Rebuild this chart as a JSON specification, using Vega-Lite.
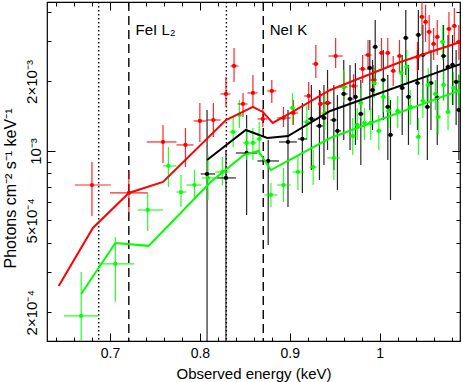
{
  "$schema": "https://vega.github.io/schema/vega-lite/v6.json",
  "width": 413,
  "height": 339,
  "autosize": {"type": "none"},
  "padding": {"left": 47, "top": 2, "right": 3, "bottom": 41},
  "config": {
    "font": "Liberation Sans",
    "view": {"stroke": "#000000", "strokeWidth": 1.2},
    "axis": {"domain": false, "grid": false, "tickColor": "#000000", "tickWidth": 1, "labelColor": "#000000", "titleColor": "#000000", "labelFont": "Liberation Sans", "titleFont": "Liberation Sans", "labelFontSize": 14, "titleFontSize": 15, "titleFontWeight": "normal", "labelFlush": false, "labelOverlap": false}
  },
  "datasets": {
    "pts": [
      {"s":"k","e":0.808,"l":0.801,"h":0.817,"f":7.95e-4,"fl":1.4e-4,"fh":1.505e-3},
      {"s":"k","e":0.829,"l":0.819,"h":0.840,"f":7.64e-4,"fl":1.4e-4,"fh":1.01e-3},
      {"s":"k","e":0.852,"l":0.840,"h":0.864,"f":9.80e-4,"fl":5.28e-4,"fh":1.432e-3},
      {"s":"k","e":0.876,"l":0.864,"h":0.888,"f":9.05e-4,"fl":3.91e-4,"fh":1.116e-3},
      {"s":"k","e":0.898,"l":0.888,"h":0.908,"f":1.094e-3,"fl":5.72e-4,"fh":1.505e-3},
      {"s":"k","e":0.914,"l":0.909,"h":0.919,"f":1.127e-3,"fl":6.58e-4,"fh":1.614e-3},
      {"s":"k","e":0.924,"l":0.920,"h":0.928,"f":1.376e-3,"fl":8.27e-4,"fh":1.932e-3},
      {"s":"k","e":0.933,"l":0.929,"h":0.937,"f":1.283e-3,"fl":7.49e-4,"fh":1.837e-3},
      {"s":"k","e":0.938,"l":0.935,"h":0.941,"f":1.390e-3,"fl":8.70e-4,"fh":1.932e-3},
      {"s":"k","e":0.942,"l":0.939,"h":0.946,"f":1.614e-3,"fl":1.01e-3,"fh":2.244e-3},
      {"s":"k","e":0.949,"l":0.945,"h":0.952,"f":1.362e-3,"fl":8.27e-4,"fh":1.932e-3},
      {"s":"k","e":0.953,"l":0.950,"h":0.957,"f":1.221e-3,"fl":6.78e-4,"fh":1.749e-3},
      {"s":"k","e":0.960,"l":0.957,"h":0.964,"f":1.766e-3,"fl":1.116e-3,"fh":2.478e-3},
      {"s":"k","e":0.967,"l":0.964,"h":0.971,"f":1.680e-3,"fl":1.01e-3,"fh":2.358e-3},
      {"s":"k","e":0.973,"l":0.970,"h":0.976,"f":1.714e-3,"fl":1.062e-3,"fh":2.40e-3},
      {"s":"k","e":0.979,"l":0.976,"h":0.982,"f":1.447e-3,"fl":8.70e-4,"fh":2.03e-3},
      {"s":"k","e":0.989,"l":0.986,"h":0.992,"f":2.289e-3,"fl":1.505e-3,"fh":3.027e-3},
      {"s":"k","e":0.992,"l":0.989,"h":0.995,"f":1.837e-3,"fl":1.233e-3,"fh":2.478e-3},
      {"s":"k","e":0.995,"l":0.992,"h":0.998,"f":2.822e-3,"fl":1.932e-3,"fh":3.694e-3},
      {"s":"k","e":1.004,"l":1.001,"h":1.007,"f":2.03e-3,"fl":1.362e-3,"fh":2.74e-3},
      {"s":"k","e":1.009,"l":1.006,"h":1.012,"f":1.551e-3,"fl":9.14e-4,"fh":2.135e-3},
      {"s":"k","e":1.012,"l":1.009,"h":1.015,"f":1.173e-3,"fl":6.13e-4,"fh":1.663e-3},
      {"s":"k","e":1.025,"l":1.022,"h":1.028,"f":1.875e-3,"fl":1.173e-3,"fh":2.605e-3},
      {"s":"k","e":1.029,"l":1.026,"h":1.032,"f":3.088e-3,"fl":2.135e-3,"fh":4.08e-3},
      {"s":"k","e":1.032,"l":1.029,"h":1.035,"f":1.714e-3,"fl":1.062e-3,"fh":2.358e-3},
      {"s":"k","e":1.042,"l":1.039,"h":1.045,"f":1.97e-3,"fl":1.233e-3,"fh":2.74e-3},
      {"s":"k","e":1.043,"l":1.040,"h":1.046,"f":3.182e-3,"fl":2.244e-3,"fh":4.08e-3},
      {"s":"k","e":1.048,"l":1.045,"h":1.051,"f":2.605e-3,"fl":1.663e-3,"fh":3.515e-3},
      {"s":"k","e":1.053,"l":1.050,"h":1.056,"f":1.551e-3,"fl":9.14e-4,"fh":2.135e-3},
      {"s":"k","e":1.057,"l":1.054,"h":1.060,"f":1.97e-3,"fl":1.233e-3,"fh":2.74e-3},
      {"s":"k","e":1.064,"l":1.061,"h":1.067,"f":1.697e-3,"fl":1.062e-3,"fh":2.358e-3},
      {"s":"k","e":1.071,"l":1.068,"h":1.074,"f":2.579e-3,"fl":1.663e-3,"fh":3.515e-3},
      {"s":"k","e":1.076,"l":1.073,"h":1.079,"f":2.312e-3,"fl":1.505e-3,"fh":3.182e-3},
      {"s":"k","e":1.081,"l":1.078,"h":1.084,"f":2.358e-3,"fl":1.582e-3,"fh":3.182e-3},
      {"s":"k","e":1.085,"l":1.082,"h":1.088,"f":1.991e-3,"fl":1.296e-3,"fh":2.74e-3},
      {"s":"k","e":1.088,"l":1.085,"h":1.091,"f":1.505e-3,"fl":9.14e-4,"fh":2.135e-3},
      {"s":"r","e":0.680,"l":0.661,"h":0.701,"f":7.12e-4,"fl":5.23e-4,"fh":8.96e-4},
      {"s":"r","e":0.721,"l":0.700,"h":0.742,"f":6.58e-4,"fl":5.39e-4,"fh":8.11e-4},
      {"s":"r","e":0.759,"l":0.741,"h":0.774,"f":1.094e-3,"fl":8.87e-4,"fh":1.296e-3},
      {"s":"r","e":0.784,"l":0.774,"h":0.793,"f":1.062e-3,"fl":8.52e-4,"fh":1.258e-3},
      {"s":"r","e":0.800,"l":0.793,"h":0.807,"f":1.349e-3,"fl":1.094e-3,"fh":1.614e-3},
      {"s":"r","e":0.815,"l":0.807,"h":0.823,"f":1.362e-3,"fl":1.15e-3,"fh":1.614e-3},
      {"s":"r","e":0.829,"l":0.823,"h":0.834,"f":1.766e-3,"fl":1.551e-3,"fh":2.092e-3},
      {"s":"r","e":0.838,"l":0.834,"h":0.843,"f":2.335e-3,"fl":1.991e-3,"fh":2.795e-3},
      {"s":"r","e":0.848,"l":0.842,"h":0.853,"f":1.598e-3,"fl":1.404e-3,"fh":1.784e-3},
      {"s":"r","e":0.859,"l":0.853,"h":0.864,"f":1.784e-3,"fl":1.551e-3,"fh":2.135e-3},
      {"s":"r","e":0.870,"l":0.864,"h":0.875,"f":1.376e-3,"fl":1.27e-3,"fh":1.536e-3},
      {"s":"r","e":0.880,"l":0.875,"h":0.885,"f":1.82e-3,"fl":1.614e-3,"fh":2.03e-3},
      {"s":"r","e":0.893,"l":0.886,"h":0.901,"f":1.39e-3,"fl":1.27e-3,"fh":1.551e-3},
      {"s":"r","e":0.904,"l":0.901,"h":0.909,"f":1.461e-3,"fl":1.296e-3,"fh":1.663e-3},
      {"s":"r","e":0.921,"l":0.916,"h":0.925,"f":1.731e-3,"fl":1.505e-3,"fh":1.991e-3},
      {"s":"r","e":0.929,"l":0.925,"h":0.932,"f":2.382e-3,"fl":2.072e-3,"fh":2.879e-3},
      {"s":"r","e":0.934,"l":0.931,"h":0.937,"f":1.598e-3,"fl":1.404e-3,"fh":1.82e-3},
      {"s":"r","e":0.942,"l":0.936,"h":0.946,"f":1.614e-3,"fl":1.39e-3,"fh":1.875e-3},
      {"s":"r","e":0.951,"l":0.943,"h":0.959,"f":2.579e-3,"fl":2.289e-3,"fh":3.088e-3},
      {"s":"r","e":0.960,"l":0.955,"h":0.964,"f":1.893e-3,"fl":1.663e-3,"fh":2.199e-3},
      {"s":"r","e":0.971,"l":0.966,"h":0.976,"f":1.912e-3,"fl":1.731e-3,"fh":2.15e-3},
      {"s":"r","e":0.981,"l":0.977,"h":0.985,"f":2.266e-3,"fl":1.97e-3,"fh":2.605e-3},
      {"s":"r","e":0.987,"l":0.983,"h":0.991,"f":2.605e-3,"fl":2.244e-3,"fh":3.027e-3},
      {"s":"r","e":0.993,"l":0.989,"h":0.997,"f":2.03e-3,"fl":1.749e-3,"fh":2.358e-3},
      {"s":"r","e":1.002,"l":0.999,"h":1.005,"f":2.658e-3,"fl":2.289e-3,"fh":3.088e-3},
      {"s":"r","e":1.009,"l":1.006,"h":1.012,"f":2.658e-3,"fl":2.289e-3,"fh":3.088e-3},
      {"s":"r","e":1.015,"l":1.012,"h":1.018,"f":2.221e-3,"fl":1.912e-3,"fh":2.579e-3},
      {"s":"r","e":1.022,"l":1.019,"h":1.025,"f":2.579e-3,"fl":2.199e-3,"fh":3.027e-3},
      {"s":"r","e":1.042,"l":1.039,"h":1.045,"f":2.554e-3,"fl":2.199e-3,"fh":2.967e-3},
      {"s":"r","e":1.047,"l":1.044,"h":1.050,"f":3.807e-3,"fl":3.182e-3,"fh":4.5e-3},
      {"s":"r","e":1.051,"l":1.048,"h":1.054,"f":3.622e-3,"fl":2.967e-3,"fh":4.3e-3},
      {"s":"r","e":1.055,"l":1.052,"h":1.058,"f":3.279e-3,"fl":2.685e-3,"fh":3.882e-3},
      {"s":"r","e":1.060,"l":1.057,"h":1.063,"f":2.908e-3,"fl":2.478e-3,"fh":3.412e-3},
      {"s":"r","e":1.064,"l":1.061,"h":1.067,"f":3.119e-3,"fl":2.605e-3,"fh":3.694e-3},
      {"s":"r","e":1.077,"l":1.074,"h":1.080,"f":3.378e-3,"fl":2.851e-3,"fh":4.0e-3},
      {"s":"r","e":1.083,"l":1.080,"h":1.086,"f":3.48e-3,"fl":2.908e-3,"fh":4.165e-3},
      {"s":"r","e":1.088,"l":1.085,"h":1.091,"f":2.967e-3,"fl":2.478e-3,"fh":3.515e-3},
      {"s":"g","e":0.668,"l":0.649,"h":0.687,"f":1.93e-4,"fl":1.4e-4,"fh":2.99e-4},
      {"s":"g","e":0.706,"l":0.687,"h":0.727,"f":3.24e-4,"fl":2.22e-4,"fh":4.24e-4},
      {"s":"g","e":0.742,"l":0.731,"h":0.759,"f":5.55e-4,"fl":4.5e-4,"fh":6.58e-4},
      {"s":"g","e":0.765,"l":0.759,"h":0.774,"f":8.61e-4,"fl":6.98e-4,"fh":1.041e-3},
      {"s":"g","e":0.779,"l":0.774,"h":0.785,"f":6.64e-4,"fl":5.72e-4,"fh":7.87e-4},
      {"s":"g","e":0.794,"l":0.785,"h":0.802,"f":7.12e-4,"fl":6.13e-4,"fh":8.27e-4},
      {"s":"g","e":0.809,"l":0.802,"h":0.817,"f":7.64e-4,"fl":6.13e-4,"fh":9.61e-4},
      {"s":"g","e":0.825,"l":0.817,"h":0.833,"f":8.11e-4,"fl":7.12e-4,"fh":9.42e-4},
      {"s":"g","e":0.837,"l":0.833,"h":0.841,"f":1.209e-3,"fl":1.041e-3,"fh":1.404e-3},
      {"s":"g","e":0.844,"l":0.841,"h":0.848,"f":1.432e-3,"fl":1.258e-3,"fh":1.663e-3},
      {"s":"g","e":0.852,"l":0.848,"h":0.855,"f":1.083e-3,"fl":9.14e-4,"fh":1.258e-3},
      {"s":"g","e":0.859,"l":0.855,"h":0.863,"f":1.083e-3,"fl":9.14e-4,"fh":1.258e-3},
      {"s":"g","e":0.866,"l":0.863,"h":0.869,"f":1.127e-3,"fl":9.61e-4,"fh":1.335e-3},
      {"s":"g","e":0.879,"l":0.872,"h":0.886,"f":6.45e-4,"fl":5.72e-4,"fh":7.27e-4},
      {"s":"g","e":0.893,"l":0.886,"h":0.901,"f":7.12e-4,"fl":6.01e-4,"fh":8.44e-4},
      {"s":"g","e":0.903,"l":0.900,"h":0.906,"f":1.536e-3,"fl":1.296e-3,"fh":1.784e-3},
      {"s":"g","e":0.909,"l":0.903,"h":0.916,"f":8.11e-4,"fl":6.78e-4,"fh":9.61e-4},
      {"s":"g","e":0.919,"l":0.915,"h":0.923,"f":1.335e-3,"fl":1.116e-3,"fh":1.582e-3},
      {"s":"g","e":0.926,"l":0.922,"h":0.930,"f":8.52e-4,"fl":7.12e-4,"fh":1.01e-3},
      {"s":"g","e":0.939,"l":0.935,"h":0.943,"f":1.461e-3,"fl":1.233e-3,"fh":1.749e-3},
      {"s":"g","e":0.949,"l":0.942,"h":0.956,"f":9.33e-4,"fl":7.49e-4,"fh":1.083e-3},
      {"s":"g","e":0.960,"l":0.956,"h":0.964,"f":1.893e-3,"fl":1.63e-3,"fh":2.244e-3},
      {"s":"g","e":0.970,"l":0.966,"h":0.974,"f":1.161e-3,"fl":9.61e-4,"fh":1.39e-3},
      {"s":"g","e":0.975,"l":0.972,"h":0.978,"f":1.296e-3,"fl":1.116e-3,"fh":1.536e-3},
      {"s":"g","e":0.979,"l":0.976,"h":0.982,"f":1.614e-3,"fl":1.39e-3,"fh":1.875e-3},
      {"s":"g","e":0.983,"l":0.980,"h":0.986,"f":1.322e-3,"fl":1.116e-3,"fh":1.536e-3},
      {"s":"g","e":0.990,"l":0.987,"h":0.993,"f":1.322e-3,"fl":1.116e-3,"fh":1.536e-3},
      {"s":"g","e":0.994,"l":0.991,"h":0.997,"f":1.97e-3,"fl":1.697e-3,"fh":2.289e-3},
      {"s":"g","e":0.999,"l":0.996,"h":1.002,"f":1.221e-3,"fl":1.01e-3,"fh":1.432e-3},
      {"s":"g","e":1.004,"l":1.001,"h":1.007,"f":1.714e-3,"fl":1.476e-3,"fh":2.0e-3},
      {"s":"g","e":1.010,"l":1.007,"h":1.013,"f":1.49e-3,"fl":1.258e-3,"fh":1.731e-3},
      {"s":"g","e":1.020,"l":1.017,"h":1.023,"f":1.49e-3,"fl":1.258e-3,"fh":1.731e-3},
      {"s":"g","e":1.024,"l":1.021,"h":1.027,"f":2.178e-3,"fl":1.837e-3,"fh":2.605e-3},
      {"s":"g","e":1.030,"l":1.027,"h":1.033,"f":2.312e-3,"fl":1.932e-3,"fh":2.739e-3},
      {"s":"g","e":1.034,"l":1.031,"h":1.037,"f":1.551e-3,"fl":1.296e-3,"fh":1.837e-3},
      {"s":"g","e":1.043,"l":1.040,"h":1.046,"f":1.15e-3,"fl":9.61e-4,"fh":1.39e-3},
      {"s":"g","e":1.048,"l":1.045,"h":1.051,"f":1.647e-3,"fl":1.39e-3,"fh":1.932e-3},
      {"s":"g","e":1.054,"l":1.051,"h":1.057,"f":1.932e-3,"fl":1.63e-3,"fh":2.289e-3},
      {"s":"g","e":1.062,"l":1.059,"h":1.065,"f":1.766e-3,"fl":1.505e-3,"fh":2.03e-3},
      {"s":"g","e":1.065,"l":1.062,"h":1.068,"f":1.404e-3,"fl":1.173e-3,"fh":1.647e-3},
      {"s":"g","e":1.070,"l":1.067,"h":1.073,"f":2.967e-3,"fl":2.478e-3,"fh":3.515e-3},
      {"s":"g","e":1.071,"l":1.068,"h":1.074,"f":1.932e-3,"fl":1.647e-3,"fh":2.244e-3},
      {"s":"g","e":1.076,"l":1.073,"h":1.079,"f":1.476e-3,"fl":1.233e-3,"fh":1.749e-3},
      {"s":"g","e":1.082,"l":1.079,"h":1.085,"f":1.875e-3,"fl":1.582e-3,"fh":2.199e-3},
      {"s":"g","e":1.088,"l":1.085,"h":1.091,"f":1.82e-3,"fl":1.538e-3,"fh":2.15e-3}
    ],
    "mod": [
      {"s":"k","e":0.808,"f":9.14e-4},
      {"s":"k","e":0.851,"f":1.233e-3},
      {"s":"k","e":0.875,"f":1.138e-3},
      {"s":"k","e":0.898,"f":1.161e-3},
      {"s":"k","e":0.945,"f":1.49e-3},
      {"s":"k","e":1.090,"f":2.382e-3},
      {"s":"r","e":0.643,"f":2.60e-4},
      {"s":"r","e":0.681,"f":4.64e-4},
      {"s":"r","e":0.721,"f":6.58e-4},
      {"s":"r","e":0.759,"f":7.34e-4},
      {"s":"r","e":0.829,"f":1.362e-3},
      {"s":"r","e":0.859,"f":1.551e-3},
      {"s":"r","e":0.870,"f":1.476e-3},
      {"s":"r","e":0.881,"f":1.322e-3},
      {"s":"r","e":0.901,"f":1.461e-3},
      {"s":"r","e":0.945,"f":1.837e-3},
      {"s":"r","e":1.023,"f":2.43e-3},
      {"s":"r","e":1.090,"f":2.967e-3},
      {"s":"g","e":0.668,"f":2.40e-4},
      {"s":"g","e":0.706,"f":3.99e-4},
      {"s":"g","e":0.743,"f":3.88e-4},
      {"s":"g","e":0.812,"f":7.34e-4},
      {"s":"g","e":0.849,"f":9.61e-4},
      {"s":"g","e":0.865,"f":1.0e-3},
      {"s":"g","e":0.879,"f":8.27e-4},
      {"s":"g","e":0.945,"f":1.138e-3},
      {"s":"g","e":1.090,"f":1.837e-3}
    ],
    "vl": [
      {"e":0.6875,"k":"dot"},
      {"e":0.8295,"k":"dot"},
      {"e":0.721,"k":"dash"},
      {"e":0.8705,"k":"dash"}
    ],
    "lab": [
      {"t":"FeI L₂","e":0.7285,"f":3.35e-3},
      {"t":"NeI K","e":0.8776,"f":3.35e-3}
    ]
  },
  "layer": [
    {
      "data": {"name": "vl"},
      "mark": {"type": "rule", "color": "#000000", "strokeWidth": 1.4},
      "encoding": {
        "x": {"field": "e", "type": "quantitative", "scale": {"domain": [0.630, 1.0893], "nice": false, "zero": false}, "axis": null},
        "strokeDash": {"field": "k", "type": "nominal", "scale": {"domain": ["dot", "dash"], "range": [[1.5, 2.5], [9, 5]]}, "legend": null}
      }
    },
    {
      "data": {"name": "pts"},
      "mark": {"type": "rule", "strokeWidth": 1.2, "opacity": 0.85, "clip": true},
      "encoding": {
        "x": {"field": "e", "type": "quantitative", "scale": {"domain": [0.630, 1.0893], "nice": false, "zero": false},
          "axis": {"orient": "bottom", "values": [0.64,0.66,0.68,0.7,0.72,0.74,0.76,0.78,0.8,0.82,0.84,0.86,0.88,0.9,0.92,0.94,0.96,0.98,1,1.02,1.04,1.06,1.08],
            "labelExpr": "abs(datum.value*10-round(datum.value*10))<0.001 ? (datum.value>0.99 ? '1' : format(datum.value,'.1f')) : ''",
            "tickSize": {"condition": {"test": "abs(datum.value*10-round(datum.value*10))<0.001", "value": -8}, "value": -4},
            "labelPadding": 13, "title": "Observed energy (keV)", "titlePadding": 2}},
        "y": {"field": "fl", "type": "quantitative", "scale": {"type": "log", "domain": [1.502e-4, 4.42e-3], "nice": false},
          "axis": {"orient": "left", "values": [2e-4,3e-4,4e-4,5e-4,6e-4,7e-4,8e-4,9e-4,1e-3,2e-3,3e-3,4e-3],
            "labelExpr": "round(datum.value*1e5)==20 ? '2×10⁻⁴' : round(datum.value*1e5)==50 ? '5×10⁻⁴' : round(datum.value*1e5)==100 ? '10⁻³' : round(datum.value*1e5)==200 ? '2×10⁻³' : ''",
            "tickSize": {"condition": {"test": "abs(datum.value-0.001)<1e-7", "value": -8}, "value": -4},
            "labelAngle": -90, "labelAlign": "center", "labelBaseline": "bottom", "labelPadding": 12, "labelFontSize": 15,
            "title": "Photons cm⁻² s⁻¹ keV⁻¹", "titleFontSize": 16, "titleY": 186, "titlePadding": 6}},
        "y2": {"field": "fh"},
        "color": {"field": "s", "type": "nominal", "scale": {"domain": ["k", "r", "g"], "range": ["#000000", "#ff0000", "#00ff00"]}, "legend": null}
      }
    },
    {
      "data": {"name": "pts"},
      "mark": {"type": "rule", "strokeWidth": 1.2, "opacity": 0.85, "clip": true},
      "encoding": {
        "x": {"field": "l", "type": "quantitative", "scale": {"domain": [0.630, 1.0893], "nice": false, "zero": false},
          "axis": {"orient": "top", "values": [0.64,0.66,0.68,0.7,0.72,0.74,0.76,0.78,0.8,0.82,0.84,0.86,0.88,0.9,0.92,0.94,0.96,0.98,1,1.02,1.04,1.06,1.08],
            "labels": false, "title": null,
            "tickSize": {"condition": {"test": "abs(datum.value*10-round(datum.value*10))<0.001", "value": -8}, "value": -4}}},
        "x2": {"field": "h"},
        "y": {"field": "f", "type": "quantitative", "scale": {"type": "log", "domain": [1.502e-4, 4.42e-3], "nice": false},
          "axis": {"orient": "right", "values": [2e-4,3e-4,4e-4,5e-4,6e-4,7e-4,8e-4,9e-4,1e-3,2e-3,3e-3,4e-3],
            "labels": false, "title": null,
            "tickSize": {"condition": {"test": "abs(datum.value-0.001)<1e-7", "value": -8}, "value": -4}}},
        "color": {"field": "s", "type": "nominal", "legend": null}
      }
    },
    {
      "data": {"name": "pts"},
      "mark": {"type": "circle", "size": 18, "opacity": 1, "clip": true},
      "encoding": {
        "x": {"field": "e", "type": "quantitative", "axis": null},
        "y": {"field": "f", "type": "quantitative", "axis": null},
        "color": {"field": "s", "type": "nominal", "legend": null}
      }
    },
    {
      "data": {"name": "mod"},
      "mark": {"type": "line", "strokeWidth": 2, "clip": true},
      "encoding": {
        "x": {"field": "e", "type": "quantitative", "axis": null},
        "y": {"field": "f", "type": "quantitative", "axis": null},
        "color": {"field": "s", "type": "nominal", "legend": null},
        "order": {"field": "e", "type": "quantitative"}
      }
    },
    {
      "data": {"name": "lab"},
      "mark": {"type": "text", "align": "left", "baseline": "middle", "fontSize": 15, "font": "Liberation Sans", "color": "#000000"},
      "encoding": {
        "x": {"field": "e", "type": "quantitative", "axis": null},
        "y": {"field": "f", "type": "quantitative", "axis": null},
        "text": {"field": "t"}
      }
    }
  ],
  "resolve": {"axis": {"x": "independent", "y": "independent"}}
}
